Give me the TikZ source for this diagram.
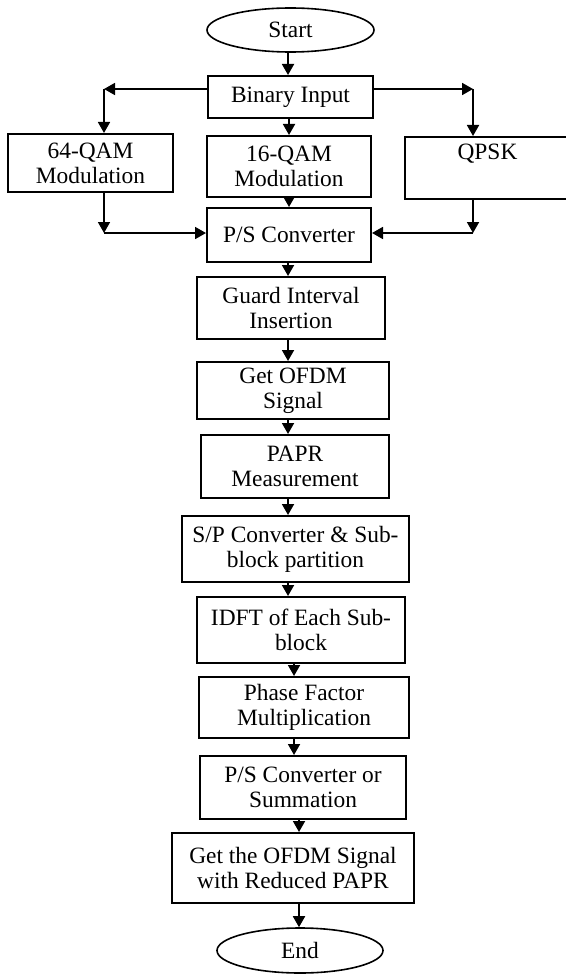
\documentclass[tikz,border=0pt]{standalone}
\usepackage{fontspec}
\setmainfont{Liberation Serif}
\usetikzlibrary{shapes.geometric,arrows.meta}
\tikzset{
  blk/.style={draw, line width=1pt, align=center, inner sep=0pt,
    font=\fontsize{11.7}{12.5}\selectfont},
  term/.style={blk, ellipse, line width=0.8pt},
  sz/.style 2 args={minimum width=#1*0.5pt, minimum height=#2*0.5pt},
  arr/.style={line width=0.9pt, -{Triangle[length=5.5pt,width=6pt]}}
}
\begin{document}
\begin{tikzpicture}[x=0.5pt, y=-0.5pt]
  \useasboundingbox (0,0) rectangle (566,974);
  % top part
  \node[term, sz={167}{44}] (start) at (290.5,30) {Start};
  \node[blk, sz={165}{42}] (bin) at (290.5,97) {Binary Input};
  \node[blk, sz={165}{58}] (q64) at (90.5,163) {64-QAM\\Modulation};
  \node[blk, sz={164}{61}] (q16) at (289,166.5) {16-QAM\\Modulation};
  \node[blk, sz={165}{62}] (qpsk) at (487.5,168) {QPSK\\\strut};
  \node[blk, sz={164}{54}] (ps) at (289,235) {P/S Converter};
  % main chain
  \node[blk, sz={188}{62}] (guard) at (291,308) {Guard Interval\\Insertion};
  \node[blk, sz={192}{57}] (get) at (293,390.5) {Get OFDM\\Signal};
  \node[blk, sz={188}{63}] (papr) at (295,466.5) {PAPR\\Measurement};
  \node[blk, sz={227}{66}] (sp) at (295.5,549) {S/P Converter \& Sub-\\block partition};
  \node[blk, sz={208}{66}] (idft) at (301,630) {IDFT of Each Sub-\\block};
  \node[blk, sz={210}{61}] (phase) at (304,707.5) {Phase Factor\\Multiplication};
  \node[blk, sz={206}{63}] (pssum) at (303,787.5) {P/S Converter or\\Summation};
  \node[blk, sz={242}{70}] (final) at (293,868) {Get the OFDM Signal\\with Reduced PAPR};
  \node[term, sz={166}{45}] (stop) at (300,950.5) {End};
  % branch corners
  \coordinate (tl) at (104,89);
  \coordinate (tr) at (473,89);
  \coordinate (bl) at (104,233);
  \coordinate (br) at (473,233);
  \foreach \p/\q/\x in {start/bin/288, bin/q16/289, q16/ps/289, ps/guard/288,
      guard/get/288, get/papr/288, papr/sp/288, sp/idft/288, idft/phase/294,
      phase/pssum/294, pssum/final/299, final/stop/299}
    \draw[arr] (\p.south -| \x,0) -- (\q.north -| \x,0);
  \draw[arr] (bin.west |- tl) -- (tl);
  \draw[arr] (tl) -- (tl |- q64.north);
  \draw[arr] (bin.east |- tr) -- (tr);
  \draw[arr] (tr) -- (tr |- qpsk.north);
  \draw[arr] (q64.south -| bl) -- (bl);
  \draw[arr] (bl) -- (bl -| ps.west);
  \draw[arr] (qpsk.south -| br) -- (br);
  \draw[arr] (br) -- (br -| ps.east);
\end{tikzpicture}
\end{document}
